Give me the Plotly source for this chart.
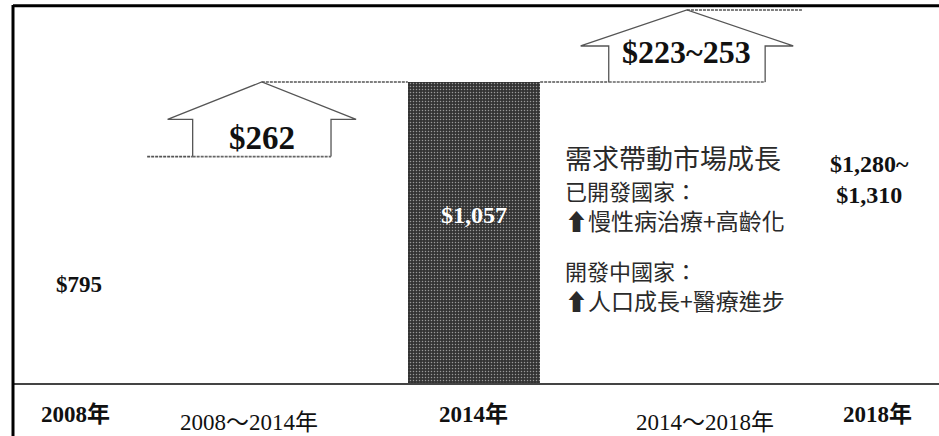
import plotly.graph_objects as go

# ---- data ----
ORDER = ["2008年", "2008～2014年", "2014年", "2014～2018年", "2018年"]
YEAR_LABELS = ["2008年", "2014年", "2018年"]
YEAR_VALUES = [795, 1057, 1310]          # 2018 shown as range 1,280~1,310 (upper bound)
YEAR_TEXT = ["$795", "$1,057", "$1,280~<br>$1,310"]
GROWTH_LABELS = ["2008～2014年", "2014～2018年"]
GROWTH_HIGH = [262, 253]                 # 2014~2018: 223~253
GROWTH_TEXT = ["$262", "$223~253"]
NOTE_LINES = ["需求帶動市場成長", "已開發國家：", "⬆慢性病治療+高齡化",
              "開發中國家：", "⬆人口成長+醫療進步"]

# ---- style ----
SERIF = "Liberation Serif, Noto Sans CJK TC"
CJK = "Noto Sans CJK TC"
BAR_HALF = 0.33
BAR_COLORS = ["rgba(0,0,0,0)", "#333333", "rgba(0,0,0,0)"]
ARROW_DX = [-0.058, 0.062]
ARROW_SHAFT = [0.345, 0.39]
ARROW_WING = [0.47, 0.53]
ARROW_NECK = 0.5
YEAR_LABEL_FRAC = [0.437, 0.558, 0.545]
YEAR_LABEL_DX = [6, 0, -6]
YEAR_LABEL_COLOR = ["#111", "white", "#111"]
YEAR_LABEL_SIZE = [23, 24, 24]
GROWTH_LABEL_FRAC = [0.25, 0.42]
GROWTH_LABEL_SIZE = [33, 32]
AXIS_YEAR_DX = [3, 0, 2]
AXIS_GROWTH_DX = [-24, 30]

pos = {c: i for i, c in enumerate(ORDER)}
fig = go.Figure()

# bars (only 2014 is visibly filled)
fig.add_trace(go.Bar(
    x=[pos[c] for c in YEAR_LABELS], y=YEAR_VALUES, width=2 * BAR_HALF,
    marker=dict(color=BAR_COLORS, line_width=0,
                pattern=dict(shape=["", ".", ""], fgcolor="#555555", size=3, solidity=0.2)),
    hoverinfo="skip", showlegend=False))

# growth arrows and connectors
for j, g in enumerate(GROWTH_LABELS):
    c = pos[g] + ARROW_DX[j]
    base = YEAR_VALUES[j]
    top = base + GROWTH_HIGH[j]
    mid = base + ARROW_NECK * GROWTH_HIGH[j]
    sw, ww = ARROW_SHAFT[j], ARROW_WING[j]
    xs = [c - sw, c - sw, c - ww, c, c + ww, c + sw, c + sw]
    ys = [base, mid, mid, top, mid, mid, base]
    fig.add_trace(go.Scatter(x=xs, y=ys, mode="lines", fill="toself", fillcolor="white",
                             line=dict(color="#555", width=1.3), hoverinfo="skip", showlegend=False))
    fig.add_trace(go.Scatter(x=[c - sw, c + sw], y=[base, base], mode="lines",
                             line=dict(color="#666", width=1.6, dash="3px,1px"),
                             hoverinfo="skip", showlegend=False))
    prev_x = pos[YEAR_LABELS[j]]
    fig.add_trace(go.Scatter(x=[prev_x + BAR_HALF + (0.04 if j == 0 else 0), c - sw], y=[base, base],
                             mode="lines", line=dict(color="#555", width=1.6, dash="3px,1px"),
                             hoverinfo="skip", showlegend=False))
    next_x = pos[YEAR_LABELS[j + 1]]
    fig.add_trace(go.Scatter(x=[c, next_x - BAR_HALF - (0.03 if j == 1 else 0)], y=[top, top],
                             mode="lines", line=dict(color="#555", width=1.6, dash="3px,1px"),
                             hoverinfo="skip", showlegend=False))
    fig.add_annotation(x=c, y=base + GROWTH_LABEL_FRAC[j] * GROWTH_HIGH[j], text=f"<b>{GROWTH_TEXT[j]}</b>",
                       showarrow=False, font=dict(family=SERIF, size=GROWTH_LABEL_SIZE[j], color="#111"))

# total labels
for i, yl in enumerate(YEAR_LABELS):
    fig.add_annotation(x=pos[yl], y=YEAR_VALUES[i] * YEAR_LABEL_FRAC[i], xshift=YEAR_LABEL_DX[i],
                       text=f"<b>{YEAR_TEXT[i]}</b>", showarrow=False,
                       font=dict(family=SERIF, size=YEAR_LABEL_SIZE[i], color=YEAR_LABEL_COLOR[i]))

# category labels under axis
for i, yl in enumerate(YEAR_LABELS):
    fig.add_annotation(x=pos[yl], xshift=AXIS_YEAR_DX[i], yref="paper", y=-0.083, yanchor="middle",
                       text=f"<b>{yl}</b>", showarrow=False,
                       font=dict(family=SERIF, size=23, color="#111"))
for j, g in enumerate(GROWTH_LABELS):
    fig.add_annotation(x=pos[g], xshift=AXIS_GROWTH_DX[j], yref="paper", y=-0.104, yanchor="middle",
                       text=g, showarrow=False, font=dict(family=SERIF, size=23, color="#111"))

# explanatory note
NOTE_Y = [158, 190, 220, 270, 300]
NOTE_SIZE = [27, 22, 23, 22, 23]
for k, line in enumerate(NOTE_LINES):
    fig.add_annotation(xref="paper", yref="paper", x=(563 - 13) / 926, xanchor="left",
                       y=(383 - NOTE_Y[k]) / 376, yanchor="middle", text=line, showarrow=False,
                       font=dict(family=CJK, size=NOTE_SIZE[k], color="#2a2a2a"))

# frame lines
fig.add_shape(type="line", xref="paper", yref="paper", x0=0, x1=0, y0=-0.2, y1=1.005,
              line=dict(color="#000", width=3))
fig.add_shape(type="line", xref="paper", yref="paper", x0=0, x1=1.02, y0=1.003, y1=1.003,
              line=dict(color="#000", width=3))

fig.update_layout(
    width=939, height=436,
    margin=dict(l=13, r=0, t=7, b=53),
    paper_bgcolor="white", plot_bgcolor="white",
    bargap=0, showlegend=False,
    xaxis=dict(range=[-0.299, 4.319], showgrid=False, zeroline=False, showticklabels=False,
               showline=True, linecolor="#444", linewidth=2, ticks="", fixedrange=True),
    yaxis=dict(range=[0, 1320.4], showgrid=False, zeroline=False, showticklabels=False,
               showline=False, ticks="", fixedrange=True),
)

fig.write_html("out.html", config={"displayModeBar": False, "staticPlot": True},
               post_script="document.body.style.margin='0';document.body.style.overflow='hidden';")
